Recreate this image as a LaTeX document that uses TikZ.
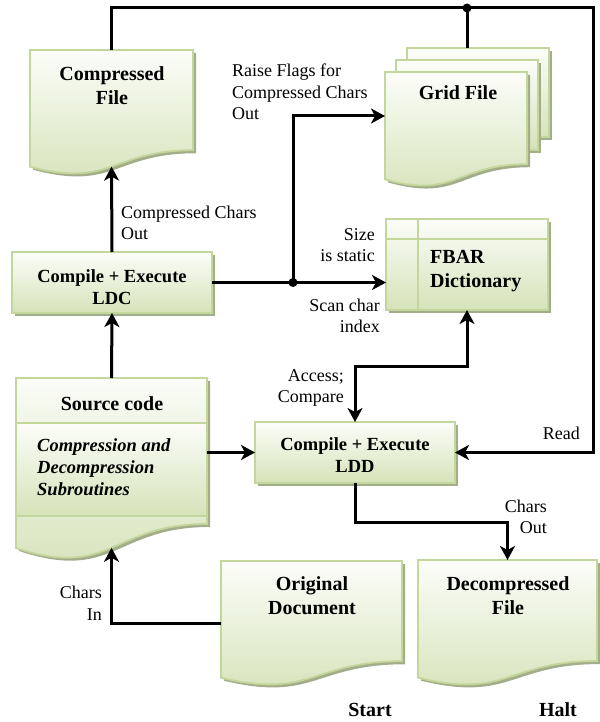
\documentclass[tikz,border=0pt]{standalone}
\usepackage{fontspec}
\setmainfont{Liberation Serif}
\usetikzlibrary{arrows.meta,calc}

\definecolor{edgegreen}{HTML}{C3D69B}
\definecolor{filltop}{HTML}{FCFDF9}
\definecolor{fillbot}{HTML}{D5E3B9}
\definecolor{shadowgreen}{HTML}{A3AD8A}

\tikzset{
  shapefill/.style={draw=edgegreen, line width=1.8pt, top color=filltop, bottom color=fillbot, line join=miter},
  shadowfill/.style={fill=shadowgreen},
  anchorbox/.style={draw=none, fill=none, inner sep=0pt, outer sep=0pt, rectangle},
  txt/.style={inner sep=0pt, font=\fontsize{18}{21.5}\selectfont},
  title/.style={inner sep=0pt, align=center, font=\fontsize{20}{24}\selectfont\bfseries},
  boxtitle/.style={inner sep=0pt, align=center, font=\fontsize{18.5}{22}\selectfont\bfseries},
  flow/.style={line width=3pt, line join=miter, -{Stealth[length=14pt,width=15pt,inset=4pt]}},
  bothflow/.style={line width=3pt, line join=miter, {Stealth[length=14pt,width=15pt,inset=4pt]}-{Stealth[length=14pt,width=15pt,inset=4pt]}},
  plainline/.style={line width=3pt, line join=miter},
}

% document sheet with a wavy lower edge: name, left, top, width, height
\newcommand\docsheet[5]{%
  \fill[shadowfill, shift={(3,3)}] (#2,#3) -- (#2+#4,#3) -- (#2+#4,#3+0.802*#5)
    .. controls (#2+0.5*#4,#3+0.802*#5) and (#2+0.5*#4,#3+1.1075*#5) .. (#2,#3+0.934*#5) -- cycle;
  \path[shapefill] (#2,#3) -- (#2+#4,#3) -- (#2+#4,#3+0.802*#5)
    .. controls (#2+0.5*#4,#3+0.802*#5) and (#2+0.5*#4,#3+1.1075*#5) .. (#2,#3+0.934*#5) -- cycle;
  \node[anchorbox, minimum width=#4pt, minimum height=#5pt] (#1) at (#2+#4/2,#3+#5/2) {};
  \coordinate (#1-wave) at (#2+#4/2,#3+0.933*#5);
}

% plain box with drop shadow: name, left, top, width, height
\newcommand\shadowbox[5]{%
  \fill[shadowfill] (#2+3,#3+3) rectangle ++(#4,#5);
  \path[shapefill] (#2,#3) rectangle ++(#4,#5);
  \node[anchorbox, minimum width=#4pt, minimum height=#5pt] (#1) at (#2+#4/2,#3+#5/2) {};
}

\begin{document}
\begin{tikzpicture}[x=1pt, y=-1pt]
\useasboundingbox (0,0) rectangle (599,722);

% ---------- shapes ----------
\docsheet{cf}{30}{50}{163}{125}

% stacked grid sheets
\shadowbox{gridback}{407}{48}{142}{89}
\shadowbox{gridmid}{396}{60}{142}{90}
\docsheet{gridfront}{385}{72}{142}{115}
\node[anchorbox, minimum width=164pt, minimum height=139pt] (grid) at (467,117.5) {};

% internal storage
\shadowbox{fbar}{386}{219}{162}{91}
\draw[edgegreen, line width=1.8pt] (418,219) -- (418,310) (386,239) -- (548,239);

\shadowbox{ldc}{12}{252}{200}{61}
\shadowbox{ldd}{255}{422}{200}{61}

% source code sheet with three sections
\docsheet{sc}{16}{378}{191}{182}
\path[draw=edgegreen, line width=1.8pt, top color=filltop, bottom color=filltop!70!fillbot] (16,378) rectangle (207,423);
\path[draw=edgegreen, line width=1.8pt, top color=filltop, bottom color=fillbot] (16,423) rectangle (207,516);

\docsheet{orig}{221}{561}{181}{125}
\docsheet{dec}{418}{560}{179}{126}

% ---------- texts ----------
\node[title] (cft) at (112,86) {Compressed\\File};
\node[title] (gridt) at (458,93) {Grid File};
\node[title, align=left, anchor=west] (fbart) at (430,271) {FBAR\\Dictionary};
\node[boxtitle] (ldct) at (112,287) {Compile + Execute\\LDC};
\node[boxtitle] (lddt) at (355,455) {Compile + Execute\\LDD};
\node[title] (sct) at (112,404) {Source code};
\node[inner sep=0pt, align=left, anchor=west, font=\fontsize{18.5}{22}\selectfont\bfseries\itshape] (scsub) at (37,467) {Compression and\\Decompression\\Subroutines};
\node[title] (origt) at (312,596) {Original\\Document};
\node[title] (dect) at (508,596) {Decompressed\\File};
\node[title] (start) at (370,710) {Start};
\node[title] (halt) at (558,710) {Halt};

\node[txt, align=left, anchor=west] (l1) at (121,223) {Compressed Chars\\Out};
\node[txt, align=left, anchor=west] (l2) at (232,92) {Raise Flags for\\Compressed Chars\\Out};
\node[txt, align=right, anchor=east] (l3) at (375,245) {Size\\is static};
\node[txt, align=right, anchor=east] (l4) at (380,316) {Scan char\\index};
\node[txt, align=right, anchor=east] (l5) at (344,388) {Access;\\Compare};
\node[txt, align=right, anchor=east] (l6) at (580,433) {Read};
\node[txt, align=right, anchor=east] (l7) at (547,517) {Chars\\Out};
\node[txt, align=right, anchor=east] (l8) at (102,603) {Chars\\In};

% ---------- connectors ----------
\coordinate (readcorner) at (593,8);
\coordinate (gridjoin) at (467,8);
\coordinate (split) at (293,282.5);
\coordinate (access) at (355,366);
\coordinate (outbend) at (355,522);

\draw[flow] (cf.north) |- (readcorner) |- (ldd.east);
\draw[plainline] (gridjoin) -- (grid.north);
\fill (gridjoin) circle (4.5pt);

\draw[flow] (ldc.north) -- (cf-wave);
\draw[flow] (ldc.east) -- (ldc.east -| fbar.west);
\draw[flow] (split) |- ([yshift=13.5pt]gridfront.west);
\fill (split) circle (4.5pt);

\draw[flow] (sc.north) -- (ldc.south);
\draw[flow] (ldd.west -| sc.east) -- (ldd.west);
\draw[bothflow] (fbar.south) |- (access) -- (ldd.north);
\draw[flow] (ldd.south) -- (outbend) -| (dec.north);
\draw[flow] (orig.west) -| (sc-wave);
\end{tikzpicture}
\end{document}
